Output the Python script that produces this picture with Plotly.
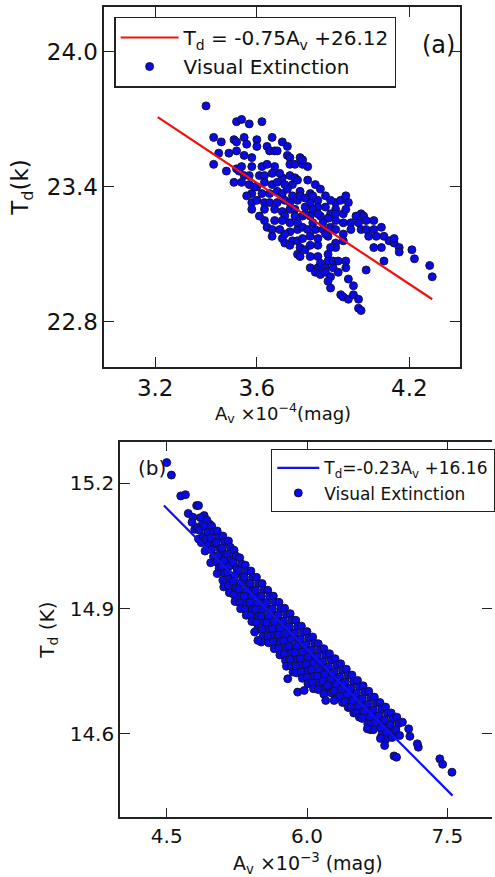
import plotly.graph_objects as go

# ---------------- data ----------------
# Panel (a): visual extinction (x 1e-4 mag) vs dust temperature (K)
points_a = [
    (3.40,23.76),(3.52,23.69),(3.54,23.70),(3.57,23.68),(3.62,23.69),
    (3.43,23.62),(3.46,23.60),(3.51,23.61),(3.52,23.60),(3.55,23.62),(3.56,23.59),(3.60,23.61),(3.60,23.58),
    (3.64,23.58),(3.66,23.62),(3.70,23.60),(3.65,23.56),(3.67,23.56),(3.68,23.56),(3.72,23.58),
    (3.45,23.55),(3.49,23.55),(3.52,23.56),(3.55,23.54),(3.58,23.53),(3.43,23.50),(3.48,23.47),(3.52,23.48),
    (3.54,23.49),(3.58,23.49),(3.62,23.49),(3.64,23.50),(3.67,23.49),(3.72,23.54),(3.73,23.53),(3.73,23.50),
    (3.75,23.50),(3.78,23.50),(3.80,23.49),(3.77,23.53),(3.78,23.52),
    (3.53,23.47),(3.55,23.45),(3.57,23.45),(3.61,23.45),(3.63,23.45),(3.66,23.46),(3.70,23.44),(3.73,23.45),
    (3.51,23.42),(3.54,23.42),(3.57,23.41),(3.60,23.40),(3.63,23.42),(3.66,23.41),(3.68,23.42),(3.71,23.41),
    (3.74,23.41),(3.80,23.43),(3.75,23.44),(3.83,23.41),(3.85,23.39),(3.81,23.37),(3.77,23.38),
    (3.58,23.37),(3.62,23.37),(3.65,23.37),(3.68,23.38),(3.70,23.37),(3.72,23.39),(3.74,23.36),(3.58,23.33),
    (3.60,23.34),(3.63,23.33),(3.65,23.33),(3.68,23.33),(3.71,23.34),(3.73,23.33),(3.76,23.34),(3.58,23.30),
    (3.63,23.30),(3.67,23.30),(3.70,23.29),(3.73,23.30),(3.75,23.30),(3.79,23.31),(3.81,23.33),(3.84,23.34),
    (3.87,23.36),(3.77,23.36),(3.79,23.35),(3.82,23.36),
    (3.91,23.33),(3.93,23.34),(3.95,23.36),(3.96,23.33),(3.91,23.30),(3.87,23.31),(3.84,23.31),(3.82,23.30),
    (3.89,23.28),(3.94,23.28),(4.01,23.28),(4.02,23.27),(4.03,23.25),(4.06,23.25),(4.00,23.24),(3.97,23.24),
    (3.94,23.24),(3.91,23.25),(3.88,23.26),(3.85,23.27),(3.81,23.27),(3.78,23.27),(3.75,23.27),(3.71,23.27),
    (3.70,23.25),(3.67,23.25),
    (3.64,23.22),(3.66,23.21),(3.66,23.18),(3.70,23.17),(3.71,23.15),(3.74,23.16),(3.73,23.20),(3.76,23.21),
    (3.78,23.22),(3.80,23.21),(3.83,23.21),(3.86,23.21),(3.89,23.22),(3.91,23.21),(3.94,23.19),(3.97,23.21),
    (4.01,23.21),(4.03,23.21),(4.06,23.21),(4.09,23.22),(4.04,23.18),(4.07,23.18),(4.10,23.18),(4.06,23.13),
    (4.09,23.13),(4.12,23.16),(4.14,23.15),(4.16,23.13),(4.14,23.17),(4.16,23.11),(4.21,23.12),(4.22,23.08),
    (4.10,23.07),(4.03,23.03),(4.28,23.05),(4.29,23.00),
    (3.76,23.16),(3.78,23.17),(3.81,23.18),(3.84,23.17),(3.88,23.18),(3.91,23.15),(3.94,23.16),(3.91,23.13),
    (3.77,23.13),(3.79,23.12),(3.76,23.10),(3.77,23.09),(3.81,23.09),(3.84,23.09),(3.88,23.10),(3.88,23.07),
    (3.90,23.07),(3.92,23.07),(3.95,23.07),(3.81,23.04),(3.84,23.04),(3.85,23.06),(3.87,23.04),(3.90,23.04),
    (3.95,23.04),(3.83,23.02),(3.85,23.01),(3.87,23.02),(3.89,23.00),(3.92,23.02),(3.88,22.98),(3.96,22.99),
    (3.89,22.95),(3.98,22.96),(3.93,22.92),(3.94,22.91),(3.96,22.90),(3.98,22.92),(4.00,22.90),(4.00,22.86),
    (4.01,22.85),
    (3.63,23.25),(3.61,23.27),(3.89,23.34),(3.91,23.28),(3.95,23.30),(3.99,23.27),(3.84,23.28),(3.79,23.28),
    (3.73,23.24),(3.82,23.24),(3.86,23.24),(3.76,23.24),(3.87,23.19),(3.84,23.14),(3.81,23.14),(3.89,23.13),
    (3.73,23.14),(3.71,23.19),(3.69,23.21),(3.59,23.40),(3.56,23.36),(3.76,23.43),(3.69,23.46),
]
fit_a_x = [3.21, 4.29]
fit_a_y = [23.71, 22.90]

# Panel (b): visual extinction (x 1e-3 mag) vs dust temperature (K)
points_b = [
    # isolated points, upper left
    (4.50,15.25),(4.55,15.22),(4.65,15.17),(4.70,15.173),(4.82,15.147),(4.84,15.147),(4.73,15.128),
    (4.78,15.119),(4.80,15.09),(4.77,15.107),(4.83,15.095),(4.84,15.067),(4.90,15.123),(4.96,15.102),
    # dense band
    (4.86,15.118),(4.88,15.101),(4.85,15.088),(4.89,15.072),(4.87,15.058),
    (4.93,15.112),(4.91,15.097),(4.94,15.083),(4.92,15.066),(4.95,15.052),(4.91,15.038),
    (4.98,15.098),(5.00,15.084),(4.97,15.069),(5.01,15.055),(4.98,15.041),(5.00,15.025),(4.97,15.010),
    (5.04,15.086),(5.06,15.071),(5.03,15.058),(5.07,15.043),(5.05,15.027),(5.03,15.012),(5.06,14.997),(5.04,14.984),
    (5.10,15.074),(5.12,15.060),(5.09,15.045),(5.13,15.030),(5.11,15.014),(5.09,15.000),(5.12,14.985),(5.10,14.968),(5.11,14.952),
    (5.16,15.062),(5.18,15.047),(5.15,15.031),(5.19,15.017),(5.17,15.002),(5.15,14.987),(5.18,14.971),(5.16,14.955),(5.17,14.938),
    (5.22,15.040),(5.24,15.026),(5.21,15.011),(5.25,14.996),(5.23,14.980),(5.21,14.965),(5.24,14.949),(5.22,14.933),(5.23,14.917),
    (5.28,15.022),(5.30,15.007),(5.27,14.992),(5.31,14.977),(5.29,14.961),(5.27,14.946),(5.30,14.930),(5.28,14.914),(5.29,14.900),
    (5.34,15.004),(5.36,14.990),(5.33,14.975),(5.37,14.960),(5.35,14.944),(5.33,14.929),(5.36,14.913),(5.34,14.898),(5.35,14.884),
    (5.40,14.990),(5.42,14.975),(5.39,14.960),(5.43,14.945),(5.41,14.929),(5.39,14.914),(5.42,14.898),(5.40,14.883),(5.41,14.869),
    (5.46,14.975),(5.48,14.960),(5.45,14.944),(5.49,14.929),(5.47,14.913),(5.45,14.898),(5.48,14.882),(5.46,14.866),(5.47,14.850),
    (5.52,14.960),(5.54,14.945),(5.51,14.930),(5.55,14.914),(5.53,14.898),(5.51,14.882),(5.54,14.866),(5.52,14.850),(5.53,14.834),(5.51,14.820),
    (5.58,14.944),(5.60,14.929),(5.57,14.914),(5.61,14.898),(5.59,14.882),(5.57,14.866),(5.60,14.850),(5.58,14.834),(5.59,14.818),
    (5.64,14.930),(5.66,14.915),(5.63,14.899),(5.67,14.884),(5.65,14.868),(5.63,14.852),(5.66,14.836),(5.64,14.820),(5.65,14.804),
    (5.70,14.915),(5.72,14.900),(5.69,14.884),(5.73,14.869),(5.71,14.853),(5.69,14.837),(5.72,14.821),(5.70,14.805),(5.71,14.789),
    (5.76,14.901),(5.78,14.886),(5.75,14.870),(5.79,14.855),(5.77,14.839),(5.75,14.823),(5.78,14.807),(5.76,14.791),(5.77,14.776),(5.78,14.762),
    (5.82,14.888),(5.84,14.873),(5.81,14.857),(5.85,14.842),(5.83,14.826),(5.81,14.810),(5.84,14.794),(5.82,14.778),(5.83,14.762),(5.85,14.748),
    (5.88,14.872),(5.90,14.857),(5.87,14.841),(5.91,14.826),(5.89,14.810),(5.87,14.794),(5.90,14.778),(5.88,14.762),(5.89,14.746),
    (5.94,14.858),(5.96,14.843),(5.93,14.827),(5.97,14.812),(5.95,14.796),(5.93,14.780),(5.96,14.764),(5.94,14.748),(5.95,14.733),
    (6.00,14.845),(6.02,14.830),(5.99,14.814),(6.03,14.799),(6.01,14.783),(5.99,14.767),(6.02,14.751),(6.00,14.735),(6.01,14.720),
    (6.06,14.832),(6.08,14.817),(6.05,14.801),(6.09,14.786),(6.07,14.770),(6.05,14.754),(6.08,14.738),(6.06,14.722),(6.07,14.708),
    (6.12,14.816),(6.14,14.801),(6.11,14.785),(6.15,14.770),(6.13,14.754),(6.11,14.738),(6.14,14.722),(6.12,14.706),
    (6.18,14.804),(6.20,14.789),(6.17,14.773),(6.21,14.758),(6.19,14.742),(6.17,14.726),(6.20,14.710),(6.18,14.695),
    (6.24,14.792),(6.26,14.777),(6.23,14.761),(6.27,14.746),(6.25,14.730),(6.23,14.714),(6.26,14.698),
    (6.30,14.780),(6.32,14.765),(6.29,14.749),(6.33,14.734),(6.31,14.718),(6.29,14.702),(6.32,14.686),
    (6.36,14.768),(6.38,14.753),(6.35,14.737),(6.39,14.722),(6.37,14.706),(6.35,14.690),(6.38,14.675),
    (6.42,14.755),(6.44,14.740),(6.41,14.724),(6.45,14.709),(6.43,14.693),(6.41,14.677),(6.44,14.663),
    (6.48,14.741),(6.50,14.726),(6.47,14.710),(6.51,14.695),(6.49,14.679),(6.47,14.663),(6.50,14.650),
    (6.54,14.728),(6.56,14.713),(6.53,14.697),(6.57,14.682),(6.55,14.666),(6.53,14.650),(6.56,14.640),
    (6.60,14.715),(6.62,14.700),(6.59,14.684),(6.63,14.669),(6.61,14.653),(6.59,14.637),
    (6.66,14.702),(6.68,14.687),(6.65,14.671),(6.69,14.656),(6.67,14.640),(6.65,14.624),(6.68,14.610),
    (6.72,14.688),(6.74,14.673),(6.71,14.657),(6.75,14.642),(6.73,14.626),(6.71,14.610),
    (6.78,14.675),(6.80,14.660),(6.77,14.644),(6.81,14.629),(6.79,14.613),(6.80,14.597),
    (6.84,14.664),(6.86,14.649),(6.83,14.633),(6.87,14.618),(6.85,14.602),(6.84,14.586),
    (6.90,14.650),(6.92,14.636),(6.89,14.621),(6.93,14.606),(6.91,14.591),
    (6.96,14.640),(6.98,14.625),(6.95,14.610),(6.99,14.596),
    # isolated points, lower side and right end
    (5.44,14.844),(5.475,14.824),(5.794,14.732),(5.90,14.70),(5.97,14.704),(6.20,14.68),(6.22,14.716),
    (6.29,14.68),(6.645,14.612),(6.785,14.589),(6.83,14.572),(6.93,14.547),(6.957,14.544),
    (7.02,14.628),(7.087,14.612),(7.10,14.594),(7.19,14.568),(7.18,14.576),
    (7.42,14.54),(7.45,14.527),(7.55,14.508),
]
fit_b_x = [4.47, 7.556]
fit_b_y = [15.147, 14.452]

xticks_a = [3.2, 3.6, 4.2]
yticks_a = [22.8, 23.4, 24.0]
xticks_b = [4.5, 6.0, 7.5]
yticks_b = [14.6, 14.9, 15.2]

av_a = [p[0] for p in points_a]
td_a = [p[1] for p in points_a]
av_b = [p[0] for p in points_b]
td_b = [p[1] for p in points_b]

# ---------------- figure ----------------
FONT = "DejaVu Sans"
W, H = 495, 877
fig = go.Figure()

marker = dict(size=8, color="#0a0ae8", line=dict(color="#101030", width=0.9))

fig.add_trace(go.Scatter(x=av_a, y=td_a, mode="markers", marker=marker,
                         name="Visual Extinction", xaxis="x", yaxis="y",
                         legend="legend", legendrank=2))
fig.add_trace(go.Scatter(x=fit_a_x, y=fit_a_y, mode="lines",
                         line=dict(color="#ee1111", width=2.2),
                         name="T<sub>d</sub> = -0.75A<sub>v</sub> +26.12",
                         xaxis="x", yaxis="y", legend="legend", legendrank=1))
fig.add_trace(go.Scatter(x=av_b, y=td_b, mode="markers", marker=marker,
                         name="Visual Extinction", xaxis="x2", yaxis="y2",
                         legend="legend2", legendrank=2))
fig.add_trace(go.Scatter(x=fit_b_x, y=fit_b_y, mode="lines",
                         line=dict(color="#1111ee", width=2.2),
                         name="T<sub>d</sub>=-0.23A<sub>v</sub> +16.16",
                         xaxis="x2", yaxis="y2", legend="legend2", legendrank=1))
# invisible trace to carry right-side ticks of panel (b)
fig.add_trace(go.Scatter(x=[None], y=[None], xaxis="x2", yaxis="y3",
                         showlegend=False, hoverinfo="skip"))

axcol = "#222222"
common = dict(showgrid=False, zeroline=False, ticks="inside", ticklen=10,
              tickwidth=1, tickcolor=axcol, linecolor=axcol, linewidth=1.5,
              showline=True)

fig.update_layout(
    width=W, height=H,
    margin=dict(l=0, r=0, t=0, b=0),
    paper_bgcolor="white", plot_bgcolor="white",
    font=dict(family=FONT, color="#111111"),
    xaxis=dict(domain=[105/W, 463/W], range=[3.0, 4.4], anchor="y",
               tickvals=xticks_a, ticktext=[f"{v:.1f}" for v in xticks_a],
               tickfont=dict(size=23), mirror="ticks", **common),
    yaxis=dict(domain=[(H-366.7)/H, (H-7)/H], range=[22.6, 24.2], anchor="x",
               tickvals=yticks_a, ticktext=[f"{v:.1f}" for v in yticks_a],
               tickfont=dict(size=23), mirror="ticks", **common),
    xaxis2=dict(domain=[120.7/W, 1.0], range=[4.0, 7.978], anchor="y2",
                tickvals=xticks_b, ticktext=[f"{v:.1f}" for v in xticks_b],
                tickfont=dict(size=20), mirror="ticks", **common),
    yaxis2=dict(domain=[(H-817.3)/H, (H-441.7)/H], range=[14.4, 15.3], anchor="x2",
                tickvals=yticks_b, ticktext=[f"{v:.1f}" for v in yticks_b],
                tickfont=dict(size=20), mirror=False, **common),
    yaxis3=dict(overlaying="y2", side="right", anchor="x2", range=[14.4, 15.3],
                tickvals=yticks_b, showticklabels=False, showgrid=False,
                zeroline=False, showline=False, ticks="inside", ticklen=10,
                tickwidth=1, tickcolor=axcol),
    legend=dict(x=115/W, y=(H-16.7)/H, xanchor="left", yanchor="top",
                bgcolor="white", bordercolor="#222222", borderwidth=1.3,
                font=dict(size=20, family=FONT, color="#111111"),
                traceorder="normal", itemwidth=58),
    legend2=dict(x=272.7/W, y=(H-449)/H, xanchor="left", yanchor="top",
                 bgcolor="white", bordercolor="#222222", borderwidth=1.3,
                 font=dict(size=17, family=FONT, color="#111111"),
                 traceorder="normal", itemwidth=42),
    showlegend=True,
)

ann = [
    dict(text="A<sub>v</sub> ×10<sup>−4</sup>(mag)", x=285/W, y=(H-413)/H,
         font=dict(size=18)),
    dict(text="A<sub>v</sub> ×10<sup>−3</sup> (mag)", x=310/W, y=(H-863)/H,
         font=dict(size=19)),
    dict(text="T<sub>d</sub>(k)", x=22/W, y=(H-187)/H, textangle=-90,
         font=dict(size=23)),
    dict(text="T<sub>d</sub> (K)", x=48/W, y=(H-630)/H, textangle=-90,
         font=dict(size=20)),
    dict(text="(a)", x=441/W, y=(H-45)/H, font=dict(size=24)),
    dict(text="(b)", x=153/W, y=(H-468)/H, font=dict(size=20)),
]
for a in ann:
    fig.add_annotation(xref="paper", yref="paper", showarrow=False,
                       xanchor="center", yanchor="middle", **a)

fig.write_html("out.html")
